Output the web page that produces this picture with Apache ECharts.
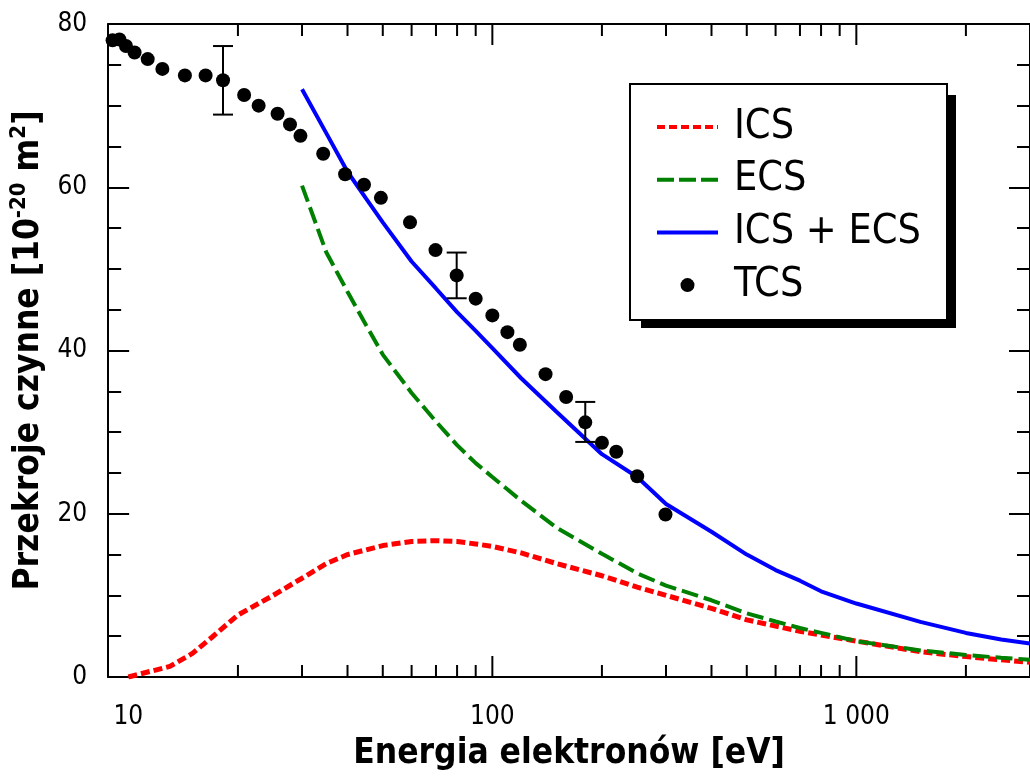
<!DOCTYPE html>
<html>
<head>
<meta charset="utf-8">
<script src="https://cdn.jsdelivr.net/npm/echarts@6/dist/echarts.min.js"></script>
<style>
html,body{margin:0;padding:0;background:#fff;}
#chart{width:1030px;height:776px;}
</style>
</head>
<body>
<div id="chart"></div>
<script>
// ---- data (energies in eV, cross sections in 10^-20 m^2) ----
const icsE = [10, 13, 15, 17, 20, 25, 30, 35, 40, 50, 60, 70, 80, 90, 100, 120, 150, 200, 250, 300, 400, 500, 700, 1000, 1500, 2000, 2500, 3000];
const icsV = [0, 1.3, 2.9, 4.9, 7.6, 10.0, 12.1, 13.9, 15.0, 16.1, 16.6, 16.7, 16.6, 16.3, 16.0, 15.2, 13.9, 12.4, 11.0, 10.0, 8.4, 7.0, 5.6, 4.4, 3.1, 2.5, 2.1, 1.8];

const thE = [30, 35, 40, 45, 50, 60, 70, 80, 90, 100, 120, 150, 200, 250, 300, 400, 500, 600, 700, 800, 1000, 1500, 2000, 2500, 3000];
const ecsV = [60.2, 52.0, 47.2, 43.1, 39.5, 34.8, 31.3, 28.4, 26.2, 24.5, 21.6, 18.3, 15.1, 12.7, 11.2, 9.4, 7.8, 6.8, 6.0, 5.4, 4.4, 3.25, 2.7, 2.35, 2.1];
const sumV = [72.0, 66.6, 61.9, 58.6, 55.7, 50.9, 47.6, 44.7, 42.4, 40.3, 36.6, 32.5, 27.3, 24.5, 21.2, 17.8, 15.0, 13.1, 11.8, 10.5, 9.0, 6.75, 5.4, 4.6, 4.1];

const tcsE = [9.05, 9.45, 9.85, 10.4, 11.3, 12.4, 14.3, 16.3, 18.2, 20.8, 22.8, 25.7, 27.8, 29.7, 34.3, 39.4, 44.4, 49.4, 59.4, 69.8, 79.8, 90, 100, 110, 119, 140, 159.5, 180, 200, 219, 250, 299];
const tcsV = [78.0, 78.1, 77.3, 76.5, 75.7, 74.5, 73.7, 73.7, 73.1, 71.3, 70.0, 69.0, 67.7, 66.3, 64.1, 61.6, 60.3, 58.7, 55.7, 52.3, 49.2, 46.35, 44.3, 42.25, 40.7, 37.1, 34.3, 31.2, 28.7, 27.6, 24.6, 19.9];

const errE = [18.2, 79.8, 180];
const errLow = [68.9, 46.4, 28.8];
const errHigh = [77.3, 52.0, 33.7];

const xMajorTicks = [100, 1000];
const xMinorTicks = [20, 30, 40, 50, 60, 70, 80, 90, 200, 300, 400, 500, 600, 700, 800, 900, 2000];

const X_MIN = 8.8, X_MAX = 3000, Y_MIN = 0, Y_MAX = 80;

// ---- chart ----
const FONT = "'DejaVu Sans Condensed', 'DejaVu Sans', sans-serif";
const chart = echarts.init(document.getElementById('chart'), null, {renderer: 'canvas'});

function zip(a, b) { return a.map((v, i) => [v, b[i]]); }

function tickRenderer(len) {
  return function (params, api) {
    const e = api.value(0);
    const b = api.coord([e, Y_MIN]);
    const t = api.coord([e, Y_MAX]);
    const st = {stroke: '#000', lineWidth: 2};
    return {
      type: 'group',
      children: [
        {type: 'line', shape: {x1: b[0], y1: b[1], x2: b[0], y2: b[1] - len}, style: st},
        {type: 'line', shape: {x1: t[0], y1: t[1], x2: t[0], y2: t[1] + len}, style: st}
      ]
    };
  };
}

const RED = '#ff0000', GREEN = '#008000', BLUE = '#0000ff';
const hiddenSym = {color: 'rgba(0,0,0,0)', borderWidth: 0, opacity: 0};

const option = {
  animation: false,
  backgroundColor: '#fff',
  grid: {left: 102, top: 24, width: 937, height: 664, containLabel: false},
  xAxis: [
    {
      type: 'log', logBase: 10, min: X_MIN, max: X_MAX, position: 'bottom',
      axisLine: {show: true, onZero: false, lineStyle: {color: '#000', width: 2}},
      axisTick: {show: false},
      minorTick: {show: false},
      splitLine: {show: false},
      axisLabel: {
        show: true, margin: 27, color: '#000', fontSize: 26, fontFamily: FONT,
        showMinLabel: false, showMaxLabel: false,
        formatter: function (v) {
          return String(Math.round(v)).replace(/\B(?=(\d{3})+(?!\d))/g, ' ');
        }
      },
      name: 'Energia elektronów [eV]',
      nameLocation: 'middle', nameGap: 59,
      nameTextStyle: {color: '#000', fontSize: 35, fontWeight: 'bold', fontFamily: FONT}
    },
    {
      type: 'log', logBase: 10, min: X_MIN, max: X_MAX, position: 'top',
      axisLine: {show: true, onZero: false, lineStyle: {color: '#000', width: 2}},
      axisTick: {show: false}, axisLabel: {show: false}, splitLine: {show: false}
    }
  ],
  yAxis: [
    {
      type: 'value', min: Y_MIN, max: Y_MAX, interval: 20, position: 'left',
      axisLine: {show: true, onZero: false, lineStyle: {color: '#000', width: 2}},
      axisTick: {show: true, inside: true, length: 21, lineStyle: {color: '#000', width: 2}},
      minorTick: {show: true, splitNumber: 4, length: 13, lineStyle: {color: '#000', width: 2}},
      splitLine: {show: false},
      axisLabel: {margin: 21, color: '#000', fontSize: 26, fontFamily: FONT, padding: [4, 0, 0, 0]},
      name: '{a|Przekroje czynne [10}{s|-20}{a| m}{s|2}{a|]}',
      nameLocation: 'middle', nameGap: 50,
      nameTextStyle: {
        color: '#000',
        rich: {
          a: {fontSize: 35, fontWeight: 'bold', fontFamily: FONT, color: '#000', lineHeight: 42},
          s: {fontSize: 22, fontWeight: 'bold', fontFamily: FONT, color: '#000', lineHeight: 14, verticalAlign: 'top'}
        }
      }
    },
    {
      type: 'value', min: Y_MIN, max: Y_MAX, interval: 20, position: 'right',
      axisLine: {show: true, onZero: false, lineStyle: {color: '#000', width: 2}},
      axisTick: {show: true, inside: true, length: 21, lineStyle: {color: '#000', width: 2}},
      minorTick: {show: true, splitNumber: 4, length: 13, lineStyle: {color: '#000', width: 2}},
      splitLine: {show: false},
      axisLabel: {show: false}
    }
  ],
  legend: {
    show: true, orient: 'vertical', left: 650, top: 100,
    itemWidth: 61, itemHeight: 14, itemGap: 8.7,
    selectedMode: false,
    textStyle: {color: '#000', fontSize: 41, fontFamily: FONT, lineHeight: 44, padding: [0, 0, 0, 11]},
    data: [
      {name: 'ICS', itemStyle: hiddenSym, lineStyle: {color: RED, width: 4, type: [8, 4]}},
      {name: 'ECS', itemStyle: hiddenSym, lineStyle: {color: GREEN, width: 4, type: [17, 5]}},
      {name: 'ICS + ECS', itemStyle: hiddenSym, lineStyle: {color: BLUE, width: 4, type: 'solid'}},
      {name: 'TCS'}
    ],
    z: 20
  },
  graphic: [
    {type: 'rect', shape: {x: 641, y: 95, width: 315, height: 233}, style: {fill: '#000'}, z: 10},
    {type: 'rect', shape: {x: 630, y: 84, width: 317, height: 236}, style: {fill: '#fff', stroke: '#000', lineWidth: 2}, z: 11}
  ],
  series: [
    {
      name: 'ICS', type: 'line', data: zip(icsE, icsV), symbol: 'none', smooth: false,
      lineStyle: {color: RED, width: 5, type: [9, 4]}, itemStyle: {color: RED}, z: 2
    },
    {
      name: 'ECS', type: 'line', data: zip(thE, ecsV), symbol: 'none',
      lineStyle: {color: GREEN, width: 4, type: [17, 6]}, itemStyle: {color: GREEN}, z: 3
    },
    {
      name: 'ICS + ECS', type: 'line', data: zip(thE, sumV), symbol: 'none',
      lineStyle: {color: BLUE, width: 4, type: 'solid'}, itemStyle: {color: BLUE}, z: 4
    },
    {
      name: 'TCS', type: 'scatter', data: zip(tcsE, tcsV), symbol: 'circle', symbolSize: 14,
      itemStyle: {color: '#000', opacity: 1}, z: 5
    },
    {
      name: 'err', type: 'custom', z: 6,
      data: errE.map((e, i) => [e, errLow[i], errHigh[i]]),
      encode: {x: 0, y: [1, 2]},
      renderItem: function (params, api) {
        const e = api.value(0);
        const lo = api.coord([e, api.value(1)]);
        const hi = api.coord([e, api.value(2)]);
        const w = 10;
        const st = {stroke: '#000', lineWidth: 2};
        return {
          type: 'group',
          children: [
            {type: 'line', shape: {x1: lo[0], y1: lo[1], x2: hi[0], y2: hi[1]}, style: st},
            {type: 'line', shape: {x1: lo[0] - w, y1: lo[1], x2: lo[0] + w, y2: lo[1]}, style: st},
            {type: 'line', shape: {x1: hi[0] - w, y1: hi[1], x2: hi[0] + w, y2: hi[1]}, style: st}
          ]
        };
      }
    },
    {
      name: 'majorTicks', type: 'custom', z: 7, silent: true,
      data: xMajorTicks.map(e => [e, Y_MIN]), encode: {x: 0, y: 1},
      renderItem: tickRenderer(21)
    },
    {
      name: 'minorTicks', type: 'custom', z: 7, silent: true,
      data: xMinorTicks.map(e => [e, Y_MIN]), encode: {x: 0, y: 1},
      renderItem: tickRenderer(12)
    }
  ]
};
chart.setOption(option);
</script>
</body>
</html>
